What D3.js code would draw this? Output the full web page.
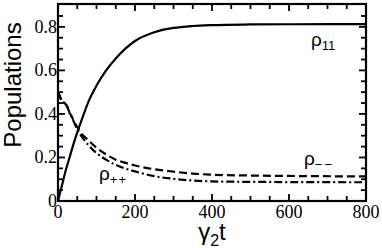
<!DOCTYPE html>
<html>
<head>
<meta charset="utf-8">
<style>
  body { margin: 0; background: #fff; }
  svg { display: block; }
  .tick-label { font-family: "Liberation Serif", "DejaVu Serif", serif; font-size: 18px; fill: #000; }
  .title { font-family: "Liberation Sans", Arial, sans-serif; fill: #000; }
</style>
</head>
<body>
<div class="container"></div>
<script src="https://d3js.org/d3.v7.min.js"></script>
<script>
// time axis (gamma_2 t)
var tRho11 = [0, 10, 20, 30, 40, 50, 60, 80, 100, 125, 150, 175, 200, 250, 300, 350, 400, 500, 600, 800];
var rho11  = [0, 0.07, 0.14, 0.2, 0.26, 0.315, 0.365, 0.46, 0.53, 0.6, 0.655, 0.7, 0.735, 0.775, 0.795, 0.804, 0.808, 0.811, 0.812, 0.813];

var tPop = [0, 3, 6, 10, 14, 18, 22, 26, 30, 35, 40, 50, 60, 80, 100, 125, 150, 175, 200, 250, 300, 350, 400, 500, 600, 800];
var rhoMM = [0.5, 0.49, 0.475, 0.462, 0.455, 0.448, 0.44, 0.425, 0.405, 0.39, 0.372, 0.34, 0.312, 0.277, 0.245, 0.214, 0.19, 0.175, 0.163, 0.146, 0.135, 0.126, 0.121, 0.117, 0.115, 0.113];
var rhoPP = [0.5, 0.49, 0.475, 0.462, 0.455, 0.448, 0.44, 0.425, 0.405, 0.388, 0.368, 0.33, 0.3, 0.255, 0.22, 0.19, 0.166, 0.149, 0.136, 0.114, 0.102, 0.094, 0.09, 0.088, 0.087, 0.086];

var xTicks = [0, 200, 400, 600, 800];
var yTicks = [0, 0.2, 0.4, 0.6, 0.8];

var W = 382, H = 248;
var svg = d3.select('.container').append('svg').attr('width', W).attr('height', H);

var x = d3.scaleLinear().domain([0, 800]).range([58, 366]);
var y = d3.scaleLinear().domain([0, 0.905]).range([201, 4]);

// minor ticks every 50 / 0.05, drawn inward on all four sides
var xMinor = d3.range(50, 800, 50);
var yMinor = d3.range(0.05, 0.9, 0.05);
var ticks = svg.append('g').attr('stroke', '#000').attr('stroke-width', 1.8);

xMinor.forEach(function(v) {
  var len = v % 200 === 0 ? 7 : 5;
  ticks.append('line').attr('x1', x(v)).attr('x2', x(v)).attr('y1', y(0)).attr('y2', y(0) - len);
  ticks.append('line').attr('x1', x(v)).attr('x2', x(v)).attr('y1', y.range()[1]).attr('y2', y.range()[1] + len);
});
yMinor.forEach(function(v) {
  var major = Math.abs(v / 0.2 - Math.round(v / 0.2)) < 1e-6;
  var len = major ? 7 : 5;
  ticks.append('line').attr('x1', x(0)).attr('x2', x(0) + len).attr('y1', y(v)).attr('y2', y(v));
  ticks.append('line').attr('x1', x(800)).attr('x2', x(800) - len).attr('y1', y(v)).attr('y2', y(v));
});

// frame
svg.append('rect')
  .attr('x', x(0)).attr('y', y.range()[1])
  .attr('width', x(800) - x(0)).attr('height', y(0) - y.range()[1])
  .attr('fill', 'none').attr('stroke', '#000').attr('stroke-width', 2.2);

// tick labels
svg.selectAll('.xl').data(xTicks).enter().append('text')
  .attr('class', 'tick-label')
  .attr('x', function(d) { return x(d); })
  .attr('y', 218)
  .attr('text-anchor', 'middle')
  .text(function(d) { return d; });

svg.selectAll('.yl').data(yTicks).enter().append('text')
  .attr('class', 'tick-label')
  .attr('x', 57)
  .attr('y', function(d) { return y(d) + 6; })
  .attr('text-anchor', 'end')
  .text(function(d) { return d === 0 ? '0' : d.toFixed(1); });

// curves
var line = d3.line().curve(d3.curveMonotoneX);
function pts(ts, vs) { return ts.map(function(t, i) { return [x(t), y(vs[i])]; }); }

svg.append('path').attr('d', line(pts(tRho11, rho11)))
  .attr('fill', 'none').attr('stroke', '#000').attr('stroke-width', 2.2);
svg.append('path').attr('d', line(pts(tPop, rhoMM)))
  .attr('fill', 'none').attr('stroke', '#000').attr('stroke-width', 2.2)
  .attr('stroke-dasharray', '8,4');
svg.append('path').attr('d', line(pts(tPop, rhoPP)))
  .attr('fill', 'none').attr('stroke', '#000').attr('stroke-width', 2.2)
  .attr('stroke-dasharray', '8,3,2,3');

// axis titles
svg.append('text').attr('class', 'title')
  .attr('transform', 'translate(21,85) rotate(-90)')
  .attr('text-anchor', 'middle')
  .style('font-size', '24px')
  .text('Populations');

var xt = svg.append('text').attr('class', 'title')
  .attr('x', 212).attr('y', 240)
  .attr('text-anchor', 'middle')
  .style('font-size', '24px');
xt.append('tspan').text('γ');
xt.append('tspan').attr('dy', 6).style('font-size', '16px').text('2');
xt.append('tspan').attr('dy', -6).text('t');

// curve labels
function rhoLabel(px, py, sub, spacing) {
  var t = svg.append('text').attr('class', 'title')
    .attr('x', px).attr('y', py).style('font-size', '19px');
  t.append('tspan').text('ρ');
  t.append('tspan').attr('dy', 4).style('font-size', '13px')
    .style('letter-spacing', spacing + 'px').text(sub);
}
rhoLabel(311, 46, '11', 0);
rhoLabel(304, 165, '−−', 2);
rhoLabel(99, 180, '++', 1);
</script>
</body>
</html>
